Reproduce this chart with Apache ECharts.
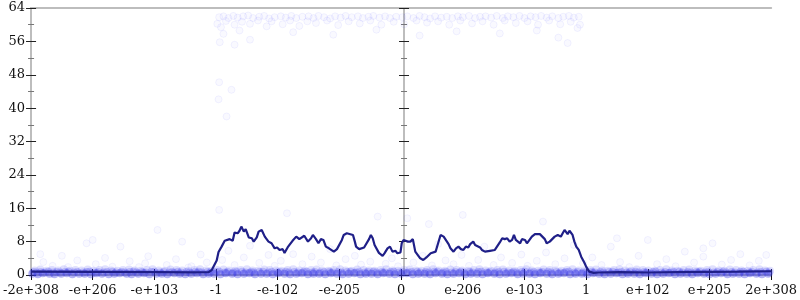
<!DOCTYPE html>
<html>
<head>
<meta charset="utf-8">
<script src="https://cdn.jsdelivr.net/npm/echarts@6/dist/echarts.min.js"></script>
<style>html,body{margin:0;padding:0;background:#fff}#c{width:800px;height:300px}</style>
</head>
<body>
<div id="c"></div>
<script>
// x positions are in "tick index" units: 0 = -2e+308 ... 6 = 0 ... 12 = 2e+308
const xTickLabels = ['-2e+308','-e+206','-e+103','-1','-e-102','-e-205','0','e-206','e-103','1','e+102','e+205','2e+308'];
const yTicks = [0, 8, 16, 24, 32, 40, 48, 56, 64];

// smoothed average line [x, value]
const avgLine = [
[0,0.8],[1.0,0.75],[2.0,0.7],[2.61,0.65],[2.88,0.7],[2.93,1.2],[3.01,3.5],[3.04,5.5],[3.09,6.8],[3.14,8.2],[3.22,8.6],[3.27,8.2],[3.30,10.2],[3.35,10.0],[3.38,10.6],[3.41,11.6],[3.45,10.4],[3.48,11.0],[3.53,9.0],[3.58,8.8],[3.61,8.0],[3.66,9.0],[3.69,10.4],[3.74,10.8],[3.79,9.2],[3.82,9.6],[3.85,8.0],[3.90,7.6],[3.95,6.4],[3.99,6.6],[4.03,6.0],[4.08,6.2],[4.11,5.3],[4.16,6.6],[4.19,7.2],[4.24,8.2],[4.30,9.2],[4.35,8.6],[4.38,8.4],[4.43,9.4],[4.46,9.2],[4.49,8.0],[4.54,8.8],[4.57,9.6],[4.62,8.6],[4.66,7.6],[4.70,8.6],[4.74,8.4],[4.78,6.8],[4.83,6.4],[4.86,6.0],[4.91,5.6],[4.96,6.2],[4.99,6.4],[5.04,8.4],[5.07,9.6],[5.12,10.0],[5.15,9.8],[5.22,9.6],[5.25,8.0],[5.27,6.8],[5.32,6.2],[5.35,6.4],[5.40,6.6],[5.43,6.8],[5.48,8.6],[5.51,9.6],[5.54,8.8],[5.57,7.2],[5.64,5.3],[5.70,4.6],[5.73,5.2],[5.78,6.4],[5.82,6.8],[5.86,5.6],[5.91,5.8],[5.94,5.2],[5.99,5.4],[6.01,7.6],[6.04,8.4],[6.11,8.0],[6.15,8.0],[6.19,8.6],[6.20,8.2],[6.23,5.6],[6.28,4.6],[6.31,4.0],[6.36,3.6],[6.41,4.2],[6.48,5.2],[6.56,5.6],[6.60,7.6],[6.64,9.6],[6.69,9.2],[6.72,8.8],[6.77,7.4],[6.80,6.4],[6.85,5.6],[6.89,6.4],[6.93,6.8],[6.97,6.2],[7.01,6.0],[7.05,6.8],[7.09,6.6],[7.12,7.4],[7.17,8.0],[7.20,7.2],[7.23,6.8],[7.28,6.6],[7.31,6.0],[7.36,5.6],[7.39,5.2],[7.44,5.8],[7.47,5.6],[7.52,6.0],[7.55,6.4],[7.60,7.8],[7.64,8.8],[7.68,8.6],[7.72,8.8],[7.76,8.0],[7.80,8.4],[7.83,9.6],[7.86,8.4],[7.89,8.0],[7.93,7.6],[7.96,8.6],[8.01,8.4],[8.04,7.6],[8.07,8.2],[8.12,9.2],[8.17,9.8],[8.20,10.0],[8.25,9.8],[8.28,9.6],[8.33,8.6],[8.36,7.6],[8.41,8.0],[8.44,8.4],[8.49,9.2],[8.54,9.6],[8.59,9.2],[8.62,10.0],[8.65,10.8],[8.68,10.4],[8.70,9.8],[8.73,10.6],[8.76,10.8],[8.78,9.6],[8.81,8.0],[8.84,6.8],[8.88,6.0],[8.92,4.4],[8.97,3.0],[9.00,2.0],[9.05,0.8],[9.12,0.5],[9.21,0.6],[9.54,0.7],[10.02,0.6],[10.50,0.7],[10.99,0.75],[11.47,0.8],[12.0,0.9]
];

// dense band of samples near zero
const bandLow = [
[0.02,0.3],[0.11,0.2],[0.19,0.4],[0.3,0.3],[0.38,0.2],[0.49,0.3],[0.58,0.4],[0.67,0.2],[0.78,0.3],[0.87,0.3],[0.97,0.2],[1.06,0.4],[1.15,0.3],[1.26,0.2],[1.35,0.3],[1.44,0.4],[1.55,0.3],[1.63,0.2],[1.74,0.3],[1.83,0.4],[1.92,0.2],[2.03,0.3],[2.12,0.3],[2.21,0.2],[2.32,0.4],[2.41,0.3],[2.5,0.2],[2.6,0.3],[2.69,0.4],[2.79,0.2],[2.88,0.3],[2.97,0.3],[3.07,0.2],[3.16,0.4],[3.26,0.3],[3.35,0.2],[3.45,0.3],[3.54,0.4],[3.63,0.2],[3.73,0.3],[3.82,0.3],[3.92,0.2],[4.01,0.4],[4.11,0.3],[4.2,0.2],[4.3,0.3],[4.39,0.4],[4.49,0.2],[4.58,0.3],[4.67,0.3],[4.77,0.2],[4.86,0.4],[4.96,0.3],[5.05,0.2],[5.15,0.3],[5.24,0.4],[5.34,0.2],[5.43,0.3],[5.52,0.3],[5.62,0.2],[5.71,0.4],[5.81,0.3],[5.9,0.2],[6.0,0.3],[6.09,0.4],[6.19,0.2],[6.28,0.3],[6.38,0.3],[6.47,0.2],[6.56,0.4],[6.66,0.3],[6.75,0.2],[6.85,0.3],[6.94,0.4],[7.04,0.2],[7.13,0.3],[7.23,0.3],[7.32,0.2],[7.41,0.4],[7.51,0.3],[7.6,0.2],[7.7,0.3],[7.79,0.4],[7.89,0.2],[7.98,0.3],[8.08,0.3],[8.17,0.2],[8.26,0.4],[8.36,0.3],[8.45,0.2],[8.55,0.3],[8.64,0.4],[8.74,0.2],[8.83,0.3],[8.93,0.3],[9.02,0.2],[9.11,0.4],[9.21,0.3],[9.3,0.2],[9.4,0.3],[9.49,0.4],[9.59,0.2],[9.68,0.3],[9.78,0.3],[9.87,0.2],[9.96,0.4],[10.06,0.3],[10.15,0.2],[10.25,0.3],[10.34,0.4],[10.44,0.2],[10.53,0.3],[10.63,0.3],[10.72,0.2],[10.81,0.4],[10.91,0.3],[11.0,0.2],[11.1,0.3],[11.19,0.4],[11.29,0.2],[11.38,0.3],[11.48,0.3],[11.57,0.2],[11.66,0.4],[11.76,0.3],[11.85,0.2],[11.95,0.3]
];
const bandMid = [
[0.04,0.7],[0.09,0.6],[0.16,0.7],[0.23,0.6],[0.28,0.8],[0.36,0.6],[0.42,0.7],[0.47,0.6],[0.55,0.7],[0.61,0.8],[0.7,0.6],[0.75,0.7],[0.84,0.6],[0.9,0.7],[0.95,0.8],[1.03,0.6],[1.09,0.7],[1.18,0.6],[1.23,0.7],[1.32,0.8],[1.38,0.6],[1.47,0.7],[1.52,0.6],[1.6,0.7],[1.66,0.8],[1.71,0.6],[1.8,0.7],[1.86,0.6],[1.95,0.7],[2.0,0.8],[2.09,0.6],[2.15,0.7],[2.24,0.6],[2.29,0.7],[2.38,0.8],[2.43,0.6],[2.52,0.7],[2.57,0.6],[2.66,0.7],[2.72,0.8],[2.77,0.6],[2.86,0.7],[2.91,0.6],[3.0,0.7],[3.05,0.8],[3.14,0.6],[3.19,0.7],[3.28,0.6],[3.33,0.7],[3.42,0.8],[3.48,0.6],[3.57,0.7],[3.61,0.6],[3.7,0.7],[3.76,0.8],[3.85,0.6],[3.9,0.7],[3.99,0.6],[4.04,0.7],[4.13,0.8],[4.18,0.6],[4.27,0.7],[4.33,0.6],[4.42,0.7],[4.47,0.8],[4.56,0.6],[4.6,0.7],[4.69,0.6],[4.75,0.7],[4.84,0.8],[4.89,0.6],[4.98,0.7],[5.03,0.6],[5.12,0.7],[5.18,0.8],[5.27,0.6],[5.32,0.7],[5.41,0.6],[5.46,0.7],[5.55,0.8],[5.6,0.6],[5.69,0.7],[5.74,0.6],[5.83,0.7],[5.88,0.8],[5.97,0.6],[6.03,0.7],[6.12,0.6],[6.17,0.7],[6.26,0.8],[6.31,0.6],[6.4,0.7],[6.45,0.6],[6.54,0.7],[6.59,0.8],[6.68,0.6],[6.73,0.7],[6.82,0.6],[6.88,0.7],[6.97,0.8],[7.02,0.6],[7.11,0.7],[7.16,0.6],[7.25,0.7],[7.3,0.8],[7.39,0.6],[7.44,0.7],[7.53,0.6],[7.58,0.7],[7.67,0.8],[7.73,0.6],[7.82,0.7],[7.87,0.6],[7.96,0.7],[8.01,0.8],[8.1,0.6],[8.15,0.7],[8.24,0.6],[8.29,0.7],[8.38,0.8],[8.43,0.6],[8.52,0.7],[8.58,0.6],[8.67,0.7],[8.72,0.8],[8.81,0.6],[8.86,0.7],[8.95,0.6],[9.0,0.7],[9.09,0.8],[9.14,0.6],[9.23,0.7],[9.28,0.6],[9.37,0.7],[9.43,0.8],[9.52,0.6],[9.57,0.7],[9.66,0.6],[9.71,0.7],[9.8,0.8],[9.85,0.6],[9.94,0.7],[9.99,0.6],[10.08,0.7],[10.13,0.8],[10.22,0.6],[10.28,0.7],[10.37,0.6],[10.42,0.7],[10.51,0.8],[10.56,0.6],[10.65,0.7],[10.7,0.6],[10.79,0.7],[10.84,0.8],[10.93,0.6],[10.98,0.7],[11.07,0.6],[11.13,0.7],[11.22,0.8],[11.27,0.6],[11.36,0.7],[11.41,0.6],[11.5,0.7],[11.55,0.8],[11.64,0.6],[11.69,0.7],[11.78,0.6],[11.83,0.7],[11.92,0.8],[11.97,0.6]
];
const bandHigh = [
[0.06,1.1],[0.15,1.3],[0.25,1.0],[0.34,1.2],[0.44,1.1],[0.53,1.4],[0.63,1.0],[0.72,1.2],[0.82,1.1],[0.92,1.3],[1.01,1.0],[1.11,1.2],[1.2,1.4],[1.3,1.1],[1.4,1.0],[1.49,1.2],[1.59,1.3],[1.68,1.1],[1.78,1.0],[1.88,1.2],[1.97,1.4],[2.07,1.1],[2.17,1.0],[2.26,1.3],[2.36,1.2],[2.45,1.1],[2.55,1.0],[2.65,1.2],[2.74,1.4],[2.84,1.1],[2.93,1.0],[3.02,1.2],[3.12,1.3],[3.21,1.1],[3.31,1.0],[3.4,1.2],[3.5,1.4],[3.59,1.1],[3.68,1.0],[3.78,1.3],[3.87,1.2],[3.97,1.1],[4.06,1.0],[4.16,1.2],[4.25,1.4],[4.35,1.1],[4.44,1.0],[4.54,1.2],[4.63,1.3],[4.72,1.1],[4.82,1.0],[4.91,1.2],[5.01,1.4],[5.1,1.1],[5.2,1.0],[5.29,1.3],[5.39,1.2],[5.48,1.1],[5.57,1.0],[5.67,1.2],[5.76,1.4],[5.86,1.1],[5.95,1.0],[6.05,1.2],[6.14,1.3],[6.24,1.1],[6.33,1.0],[6.42,1.2],[6.52,1.4],[6.61,1.1],[6.71,1.0],[6.8,1.3],[6.9,1.2],[6.99,1.1],[7.09,1.0],[7.18,1.2],[7.27,1.4],[7.37,1.1],[7.46,1.0],[7.56,1.2],[7.65,1.3],[7.75,1.1],[7.84,1.0],[7.94,1.2],[8.03,1.4],[8.12,1.1],[8.22,1.0],[8.31,1.3],[8.41,1.2],[8.5,1.1],[8.6,1.0],[8.69,1.2],[8.78,1.4],[8.88,1.1],[8.97,1.0],[9.07,1.2],[9.16,1.3],[9.26,1.1],[9.35,1.0],[9.45,1.2],[9.54,1.4],[9.63,1.1],[9.73,1.0],[9.82,1.3],[9.92,1.2],[10.01,1.1],[10.11,1.0],[10.2,1.2],[10.3,1.4],[10.39,1.1],[10.48,1.0],[10.58,1.2],[10.67,1.3],[10.77,1.1],[10.86,1.0],[10.96,1.2],[11.05,1.4],[11.15,1.1],[11.24,1.0],[11.33,1.3],[11.43,1.2],[11.52,1.1],[11.62,1.0],[11.71,1.2],[11.81,1.4],[11.9,1.1],[11.98,1.0]
];

// samples near the top (large values)
const topSamples = [
[3.05,61.8],[3.12,62.0],[3.2,61.6],[3.28,62.1],[3.35,61.7],[3.44,62.0],[3.52,62.2],[3.6,61.6],[3.7,61.9],[3.78,62.1],[3.86,61.5],[3.95,61.8],[4.05,62.0],[4.13,61.7],[4.22,62.1],[4.3,61.6],[4.4,61.9],[4.5,62.0],[4.58,61.6],[4.66,62.1],[4.75,61.8],[4.85,61.5],[4.93,62.0],[5.02,61.7],[5.1,62.1],[5.2,61.8],[5.3,62.0],[5.38,61.6],[5.47,61.9],[5.55,62.1],[5.65,61.7],[5.74,62.0],[5.82,61.6],[5.92,61.9],[6.02,61.8],[6.1,62.0],[6.2,61.6],[6.3,62.1],[6.38,61.8],[6.47,61.5],[6.55,62.0],[6.65,61.7],[6.74,61.9],[6.83,61.6],[6.92,62.0],[7.0,61.8],[7.1,62.1],[7.2,61.6],[7.28,61.9],[7.37,62.0],[7.46,61.7],[7.55,62.1],[7.65,61.6],[7.73,62.0],[7.82,61.8],[7.92,62.1],[8.0,61.6],[8.1,62.0],[8.18,61.8],[8.27,62.1],[8.36,61.7],[8.45,62.0],[8.55,61.6],[8.63,61.9],[8.72,62.1],[8.8,61.7],[8.88,61.9],
[3.02,60.2],[3.08,59.4],[3.16,60.9],[3.3,60.0],[3.42,60.7],[3.55,60.2],[3.68,61.0],[3.82,59.6],[3.9,60.8],[4.08,60.1],[4.2,61.0],[4.35,59.7],[4.48,60.8],[4.62,60.4],[4.8,61.0],[4.98,59.9],[5.15,60.8],[5.33,60.3],[5.5,61.0],[5.68,60.0],[5.88,60.7],[6.05,60.1],[6.25,61.0],[6.42,60.5],[6.6,60.8],[6.78,60.0],[6.96,61.0],[7.15,60.3],[7.32,60.8],[7.5,60.0],[7.68,61.0],[7.86,60.4],[8.05,60.8],[8.22,60.0],[8.4,61.0],[8.58,60.1],[8.75,60.7],[8.9,60.0],[8.86,59.2],
[3.12,57.8],[3.38,58.6],[3.55,56.4],[4.25,58.2],[4.9,57.6],[5.6,58.8],[6.3,57.4],[6.9,58.4],[7.6,57.9],[8.2,58.6],[8.55,56.9],[3.06,55.8],[3.3,55.2],[8.7,55.6],
[3.05,46.2],[3.25,44.4],[3.04,42.1],[3.17,38.0]
];

// scattered samples at low and mid values
const lowSamples = [
[0.2,3.1],[0.35,2.2],[0.5,4.6],[0.6,1.9],[0.75,3.5],[0.9,7.6],[1.05,2.6],[1.2,4.1],[1.32,2.0],[1.45,6.8],[1.6,3.3],[1.75,1.9],[1.9,4.5],[2.05,10.8],[2.2,2.4],[2.35,3.8],[2.45,8.0],[2.6,2.1],[2.75,4.9],[2.85,3.0],[0.15,5.0],[1.0,8.4],[1.85,2.8],[2.55,1.8],
[3.05,15.6],[3.1,3.6],[3.2,5.8],[3.3,2.4],[3.45,4.2],[3.55,7.0],[3.7,2.9],[3.85,4.8],[3.95,2.2],[4.05,3.4],[4.15,14.8],[4.25,5.0],[4.4,2.6],[4.55,4.4],[4.7,3.0],[4.85,6.2],[4.95,2.3],[5.1,3.8],[5.25,4.6],[5.35,2.5],[5.5,3.2],[5.62,14.0],[5.75,2.7],[5.85,4.0],[5.95,2.1],
[6.1,13.6],[6.2,3.0],[6.35,4.6],[6.5,2.3],[6.6,7.4],[6.72,3.5],[6.85,2.6],[6.98,4.8],[7.1,2.2],[7.25,3.6],[7.35,6.8],[7.5,2.4],[7.62,4.2],[7.8,2.9],[7.95,4.9],[8.05,2.2],[8.2,3.4],[8.35,5.4],[8.5,2.6],[8.65,4.0],[8.8,7.2],[8.95,2.8],[6.45,12.2],[7.0,14.4],[8.3,12.8],
[9.1,4.2],[9.25,2.4],[9.4,6.8],[9.55,3.1],[9.7,1.9],[9.85,4.6],[10.0,8.4],[10.15,2.6],[10.3,3.8],[10.45,2.1],[10.6,5.6],[10.75,3.0],[10.9,4.4],[11.05,7.6],[11.2,2.5],[11.35,3.6],[11.5,5.0],[11.65,2.3],[11.8,3.4],[11.92,4.8],[9.5,8.8],[10.9,6.4]
];

const chart = echarts.init(document.getElementById('c'), null, {renderer: 'canvas'});
const font = 'DejaVu Serif';
const gray = '#bdbdbd';
function yAx(extra) {
  return Object.assign({
    type: 'value', min: yTicks[0], max: yTicks[yTicks.length - 1], interval: 8,
    splitLine: {show: false},
    axisLine: {show: true, lineStyle: {color: gray, width: 2}},
    axisTick: {show: true, inside: true, length: 5, lineStyle: {color: '#222', width: 1}},
    minorTick: {show: true, splitNumber: 2, length: 3, lineStyle: {color: '#777'}},
    axisLabel: {show: false}
  }, extra);
}
function xAx(extra) {
  return Object.assign({
    type: 'value', min: 0, max: 12, interval: 1,
    splitLine: {show: false},
    axisLine: {show: true, onZero: false, lineStyle: {color: gray, width: 2}},
    axisTick: {show: true, length: 5, lineStyle: {color: '#111', width: 1}},
    axisLabel: {show: false}
  }, extra);
}
const faint = {color: 'rgba(40,40,255,0.035)', borderColor: 'rgba(40,40,255,0.07)', borderWidth: 1};

chart.setOption({
  animation: false,
  backgroundColor: '#fff',
  grid: {left: 28, right: 27, top: 8, bottom: 25, containLabel: false},
  xAxis: [
    xAx({position: 'bottom',
      axisLabel: {show: true, margin: 9, color: '#111', fontFamily: font, fontSize: 13,
        showMinLabel: true, showMaxLabel: true, hideOverlap: false,
        formatter: v => xTickLabels[Math.round(v)]}}),
    xAx({position: 'bottom', axisTick: {show: true, inside: true, length: 6, lineStyle: {color: '#111'}}}),
    xAx({position: 'top', axisTick: {show: false}})
  ],
  yAxis: [
    yAx({position: 'left',
      axisLabel: {show: true, margin: 6, color: '#111', fontFamily: font, fontSize: 13,
        formatter: v => String(v)}}),
    yAx({position: 'right'}),
    yAx({position: 'right', axisTick: {show: true, inside: false, length: 5, lineStyle: {color: '#222'}}}),
    yAx({position: 'left', offset: -373}),
    yAx({position: 'left', offset: -373, axisTick: {show: true, inside: false, length: 5, lineStyle: {color: '#222'}}})
  ],
  series: [
    {type: 'scatter', data: lowSamples, symbolSize: 7, z: 3, itemStyle: faint},
    {type: 'scatter', data: topSamples, symbolSize: 7, z: 3, itemStyle: faint},
    {type: 'scatter', data: bandHigh, symbolSize: 8, z: 3,
      itemStyle: {color: 'rgba(80,80,245,0.22)'}},
    {type: 'scatter', data: bandMid, symbolSize: 8, z: 3,
      itemStyle: {color: 'rgba(60,60,240,0.3)'}},
    {type: 'scatter', data: bandLow, symbolSize: 8, z: 3,
      itemStyle: {color: 'rgba(50,50,225,0.45)'}},
    {type: 'line', data: avgLine, showSymbol: false, z: 5,
      lineStyle: {color: '#1f1f88', width: 2.2}}
  ]
});
</script>
</body>
</html>
